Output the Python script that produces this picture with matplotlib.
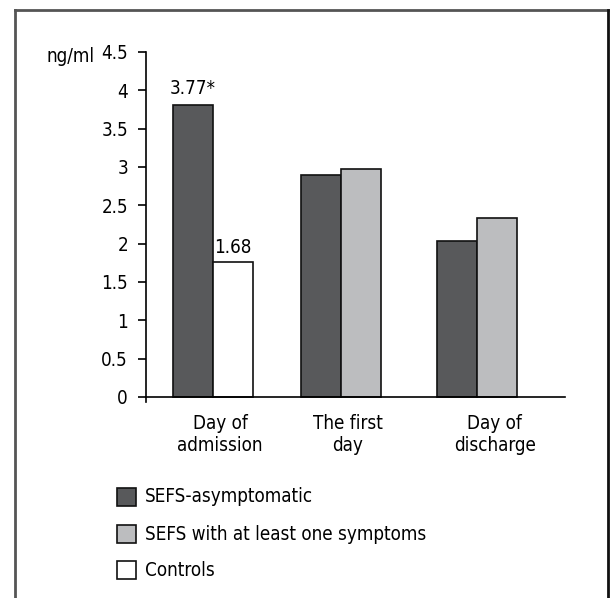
import matplotlib
matplotlib.use("Agg")
import matplotlib.pyplot as plt
from matplotlib.lines import Line2D
from matplotlib.patches import Rectangle

plt.rcParams['font.family'] = ['DejaVu Sans']
plt.rcParams['font.stretch'] = 'condensed'

categories = ["Day of\nadmission", "The first\nday", "Day of\ndischarge"]
asym = [3.81, 2.89, 2.04]
sympt = [None, 2.98, 2.33]
controls = [1.76, None, None]
labels_asym = ["3.77*", None, None]
labels_ctrl = ["1.68", None, None]
yticks = [0, 0.5, 1, 1.5, 2, 2.5, 3, 3.5, 4, 4.5]
ytick_labels = ["0", "0.5", "1", "1.5", "2", "2.5", "3", "3.5", "4", "4.5"]
legend_labels = ["SEFS-asymptomatic", "SEFS with at least one symptoms", "Controls"]

c_dark = "#58595b"
c_grey = "#bcbdbf"
c_white = "#ffffff"

FS = 13.5
W, H = 610, 598
ppu = 345 / 4.5
ymin = -0.07
ax_bottom_px = 397 - ymin * ppu
ax_h_px = (4.5 - ymin) * ppu
fig = plt.figure(figsize=(W / 100, H / 100), dpi=100)
ax = fig.add_axes([146 / W, 1 - ax_bottom_px / H, (565 - 146) / W, ax_h_px / H])

bw = 0.286
dark_left = [0.193, 1.107, 2.081]
ek = dict(edgecolor='#111111', linewidth=1.2)
for i, v in enumerate(asym):
    ax.bar(dark_left[i], v, width=bw, align='edge', color=c_dark, **ek)
    if sympt[i] is not None:
        ax.bar(dark_left[i] + bw, sympt[i], width=bw, align='edge', color=c_grey, **ek)
    if controls[i] is not None:
        ax.bar(dark_left[i] + bw, controls[i], width=bw, align='edge', color=c_white, **ek)
    if labels_asym[i]:
        ax.text(dark_left[i] + bw / 2, v + 0.14, labels_asym[i], ha='center', va='baseline', fontsize=FS)
    if labels_ctrl[i]:
        ax.text(dark_left[i] + 1.5 * bw, controls[i] + 0.12, labels_ctrl[i], ha='center', va='baseline', fontsize=FS)

ax.set_xlim(0, 3)
ax.set_ylim(ymin, 4.5)
ax.spines['top'].set_visible(False)
ax.spines['right'].set_visible(False)
ax.spines['bottom'].set_position(('data', 0))
ax.spines['left'].set_linewidth(1.2)
ax.spines['bottom'].set_linewidth(1.2)
ax.set_yticks(yticks)
ax.set_yticklabels(ytick_labels, fontsize=FS)
ax.tick_params(axis='y', direction='out', length=6, width=1.2, pad=7)
ax.set_xticks([0.53, 1.446, 2.498])
ax.set_xticklabels(categories, fontsize=FS, linespacing=1.25)
ax.tick_params(axis='x', length=0, pad=12)

fig.text(71 / W, 1 - 57 / H, "ng/ml", fontsize=FS, ha='center', va='center')

# legend
leg_colors = [c_dark, c_grey, c_white]
ys = [497, 534, 570]
for col, lab, y in zip(leg_colors, legend_labels, ys):
    fig.patches.append(Rectangle((117 / W, 1 - (y + 9) / H), 19 / W, 18 / H,
                                 transform=fig.transFigure, facecolor=col,
                                 edgecolor='#111111', linewidth=1.2))
    fig.text(145 / W, 1 - y / H, lab, fontsize=FS, ha='left', va='center')

# border
fig.add_artist(Line2D([14.5 / W, 14.5 / W], [0, 1 - 10 / H], transform=fig.transFigure, color='#555555', lw=2))
fig.add_artist(Line2D([14.5 / W, 607.5 / W], [1 - 10 / H, 1 - 10 / H], transform=fig.transFigure, color='#555555', lw=2))
fig.add_artist(Line2D([607.5 / W, 607.5 / W], [0, 1 - 10 / H], transform=fig.transFigure, color='#111111', lw=2))

fig.savefig("out.png", dpi=100)
